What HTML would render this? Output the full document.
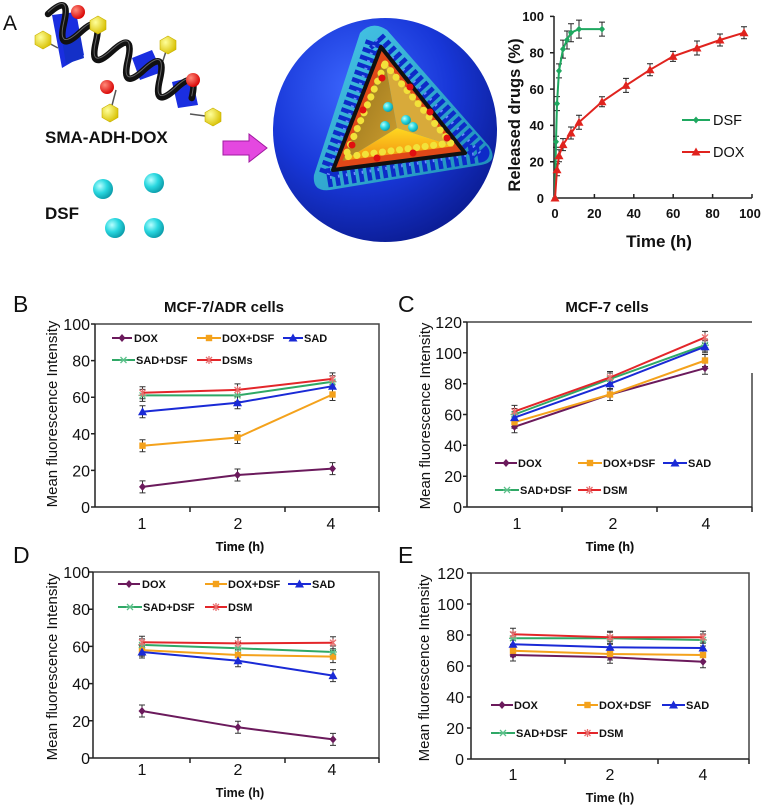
<!DOCTYPE html>
<html><head><meta charset="utf-8"><style>
html,body{margin:0;padding:0;background:#fff;}
svg{display:block;font-family:"Liberation Sans",Arial,sans-serif;}
.ax{stroke:#222;stroke-width:1.5;fill:none;}
.bx{stroke:#444;stroke-width:1.5;fill:none;}
.tk{font-size:16px;fill:#111;}
.lg{font-size:11px;font-weight:bold;fill:#111;}
.tt{font-size:12.5px;font-weight:bold;fill:#111;}
.yt{font-size:15px;fill:#111;}
.pl{font-size:23px;fill:#111;}
.s1{stroke:#6b1a5c;stroke-width:2;fill:none;}
.s2{stroke:#f4a21c;stroke-width:2;fill:none;}
.s3{stroke:#1a2ad6;stroke-width:2;fill:none;}
.s4{stroke:#2fa866;stroke-width:2;fill:none;}
.s5{stroke:#e3262a;stroke-width:2;fill:none;}
.eb{stroke:none;fill:none;}
</style></head><body>
<svg width="767" height="811" viewBox="0 0 767 811" xmlns="http://www.w3.org/2000/svg">
<defs>
<marker id="mD" viewBox="-5 -5 10 10" markerWidth="10" markerHeight="10" markerUnits="userSpaceOnUse" overflow="visible"><path d="M0,-4L3.5,0L0,4L-3.5,0Z" fill="#6b1a5c"/></marker>
<marker id="mS" viewBox="-5 -5 10 10" markerWidth="10" markerHeight="10" markerUnits="userSpaceOnUse" overflow="visible"><rect x="-3.2" y="-3.2" width="6.4" height="6.4" fill="#f4a21c"/></marker>
<marker id="mT" viewBox="-5 -5 10 10" markerWidth="10" markerHeight="10" markerUnits="userSpaceOnUse" overflow="visible"><path d="M0,-4.5L4.5,3.5L-4.5,3.5Z" fill="#1a2ad6"/></marker>
<marker id="mX" viewBox="-5 -5 10 10" markerWidth="10" markerHeight="10" markerUnits="userSpaceOnUse" overflow="visible"><path d="M-3,-3L3,3M-3,3L3,-3M-4,0H4" stroke="#5cc08a" stroke-width="1.3"/></marker>
<marker id="mA" viewBox="-5 -5 10 10" markerWidth="10" markerHeight="10" markerUnits="userSpaceOnUse" overflow="visible"><path d="M-3,-3L3,3M-3,3L3,-3M0,-4V4" stroke="#e87070" stroke-width="1.3"/></marker>
<marker id="mG" viewBox="-5 -5 10 10" markerWidth="10" markerHeight="10" markerUnits="userSpaceOnUse" overflow="visible"><path d="M0,-3.5L3,0L0,3.5L-3,0Z" fill="#1fa860"/></marker>
<marker id="mR" viewBox="-5 -5 10 10" markerWidth="10" markerHeight="10" markerUnits="userSpaceOnUse" overflow="visible"><path d="M0,-4.5L4.5,3.5L-4.5,3.5Z" fill="#e0231e"/></marker>
<marker id="eb" viewBox="-5 -8 10 16" markerWidth="10" markerHeight="16" markerUnits="userSpaceOnUse" overflow="visible"><path d="M0,-6V6M-3,-6H3M-3,6H3" stroke="#333" stroke-width="1"/></marker>
<radialGradient id="sph" cx="0.38" cy="0.32" r="0.75">
<stop offset="0" stop-color="#3d68ff"/><stop offset="0.55" stop-color="#1837d8"/><stop offset="1" stop-color="#0a1a8e"/></radialGradient>
<linearGradient id="cy" x1="0" y1="0" x2="1" y2="1"><stop offset="0" stop-color="#48c8e8"/><stop offset="1" stop-color="#1c8ab8"/></linearGradient>
<linearGradient id="f3" x1="0" y1="0" x2="0" y2="1"><stop offset="0" stop-color="#ffd820"/><stop offset="1" stop-color="#f08a10"/></linearGradient>
<linearGradient id="f1" x1="0" y1="0" x2="1" y2="1"><stop offset="0" stop-color="#8a6a18"/><stop offset="1" stop-color="#d0a030"/></linearGradient>
<radialGradient id="cb" cx="0.35" cy="0.35" r="0.7"><stop offset="0" stop-color="#b8ffff"/><stop offset="0.5" stop-color="#2ad8e0"/><stop offset="1" stop-color="#0a9aa8"/></radialGradient>
<radialGradient id="rb" cx="0.35" cy="0.35" r="0.7"><stop offset="0" stop-color="#ff8a7a"/><stop offset="1" stop-color="#d80000"/></radialGradient>
<radialGradient id="yb" cx="0.35" cy="0.35" r="0.7"><stop offset="0" stop-color="#ffff9a"/><stop offset="1" stop-color="#d8c000"/></radialGradient>
</defs>

<!-- ============ PANEL A illustration ============ -->
<text x="3" y="30" style="font-size:21px;fill:#111">A</text>
<polygon points="52,15 76,12 84,55 62,68" fill="#1a2ee0"/>
<polygon points="132,58 152,50 162,72 140,80" fill="#1a2ee0"/>
<polygon points="172,82 192,77 198,105 178,108" fill="#1a2ee0"/>
<polygon points="62,40 80,36 84,58 66,64" fill="#1430c8"/>
<path d="M98,25L95,48M168,45L160,70M110,113L116,90M213,117L190,114M43,40L58,48" stroke="#555" stroke-width="1.5" fill="none"/>
<g transform="translate(48,14) rotate(30.3)">
<path d="M0,0 Q9.25,-30 18.5,0 T37,0 T55.5,0 T74,0 T92.5,0 T111,0 T129.5,0 T148,0 T166.5,0" stroke="#111" stroke-width="6.5" fill="none" stroke-linecap="round"/>
<path d="M0,0 Q9.25,-30 18.5,0 T37,0 T55.5,0 T74,0 T92.5,0 T111,0 T129.5,0 T148,0 T166.5,0" stroke="#666" stroke-width="1" fill="none" transform="translate(-1,-1.5)"/>
</g>
<circle cx="78" cy="12" r="7" fill="url(#rb)"/>
<circle cx="107" cy="87" r="7" fill="url(#rb)"/>
<circle cx="193" cy="80" r="7" fill="url(#rb)"/>
<g fill="url(#yb)" stroke="#c8b000" stroke-width="0.6">
<polygon points="43,31 51,35.5 51,44.5 43,49 35,44.5 35,35.5"/>
<polygon points="98,16 106,20.5 106,29.5 98,34 90,29.5 90,20.5"/>
<polygon points="168,36 176,40.5 176,49.5 168,54 160,49.5 160,40.5"/>
<polygon points="110,104 118,108.5 118,117.5 110,122 102,117.5 102,108.5"/>
<polygon points="213,108 221,112.5 221,121.5 213,126 205,121.5 205,112.5"/>
</g>
<text x="45" y="143" style="font-size:17px;font-weight:bold;fill:#111">SMA-ADH-DOX</text>
<text x="45" y="219" style="font-size:17px;font-weight:bold;fill:#111">DSF</text>
<circle cx="103" cy="189" r="10" fill="url(#cb)"/>
<circle cx="154" cy="183" r="10" fill="url(#cb)"/>
<circle cx="115" cy="228" r="10" fill="url(#cb)"/>
<circle cx="154" cy="228" r="10" fill="url(#cb)"/>
<polygon points="223,141 249,141 249,134 267,148 249,162 249,155 223,155" fill="#e448e0" stroke="#a01aa0" stroke-width="1"/>
<!-- sphere -->
<circle cx="385" cy="130" r="112" fill="url(#sph)"/>
<path d="M360,33 Q372,20 387,30 L489,146 Q499,162 481,165 L330,190 Q312,192 314,175 Z" fill="url(#cy)"/>
<path d="M376,40 L480,153 L327,178 Z" stroke="#0d2bc8" stroke-width="19" fill="none" stroke-dasharray="4.5 3.5" stroke-linejoin="round"/>
<path d="M376,40 L480,153 L327,178 Z" stroke="#6a8cff" stroke-width="3" fill="none" stroke-dasharray="1.5 6.5" stroke-linejoin="round"/>
<polygon points="384,55 397,128 340,163" fill="url(#f1)"/>
<polygon points="384,55 457,147 397,128" fill="#d8aa3a"/>
<polygon points="397,128 457,147 340,163" fill="url(#f3)"/>
<path d="M383,53 L460,149 L337,165 Z" stroke="#e04818" stroke-width="7" fill="none" stroke-linejoin="round"/>
<path d="M381,47 L465,153 L333,170 Z" stroke="#111" stroke-width="4" fill="none" stroke-linejoin="round"/>
<path d="M385,64 L451,143 L345,157 Z" stroke="#f2e23a" stroke-width="7" fill="none" stroke-dasharray="0.1 8.5" stroke-linecap="round"/>
<g fill="#e01010">
<circle cx="382" cy="78" r="3.5"/><circle cx="410" cy="87" r="3.5"/><circle cx="363" cy="110" r="3.5"/><circle cx="430" cy="112" r="3.5"/><circle cx="352" cy="145" r="3.5"/><circle cx="447" cy="138" r="3.5"/><circle cx="377" cy="158" r="3.5"/><circle cx="413" cy="153" r="3.5"/></g>
<g fill="url(#cb)"><circle cx="388" cy="107" r="5"/><circle cx="385" cy="126" r="5"/><circle cx="406" cy="120" r="5"/><circle cx="413" cy="127" r="5"/></g>

<!-- ============ PANEL A chart ============ -->
<text transform="translate(520,115) rotate(-90)" text-anchor="middle" style="font-size:16.5px;font-weight:bold;fill:#111">Released drugs (%)</text>
<g style="font-size:13px;font-weight:bold;fill:#111" text-anchor="end">
<text x="544" y="21">100</text><text x="544" y="57.5">80</text><text x="544" y="94">60</text><text x="544" y="130">40</text><text x="544" y="166.5">20</text><text x="544" y="203">0</text></g>
<g style="font-size:13px;font-weight:bold;fill:#111" text-anchor="middle">
<text x="555" y="218">0</text><text x="594.4" y="218">20</text><text x="633.8" y="218">40</text><text x="673.2" y="218">60</text><text x="712.6" y="218">80</text><text x="750" y="218">100</text></g>
<text x="659" y="247" text-anchor="middle" style="font-size:17px;font-weight:bold;fill:#111">Time (h)</text>
<path class="ax" d="M554,16V198H752M550,16.4H554M550,52.7H554M550,89.1H554M550,125.4H554M550,161.7H554M594.4,198V194M633.8,198V194M673.2,198V194M712.6,198V194M752,198V194"/>
<path d="M556,136.2V147.2M553,136.2h6M553,147.2h6 M557,96.6V110.6M554,96.6h6M554,110.6h6 M559,63.9V77.9M556,63.9h6M556,77.9h6 M563,40.1V58.1M560,40.1h6M560,58.1h6 M567,31V49M564,31h6M564,49h6 M571,23.7V41.7M568,23.7h6M568,41.7h6 M579,20.1V38.1M576,20.1h6M576,38.1h6 M602,22.1V36.1M599,22.1h6M599,36.1h6
M557,163.7V175.7M554,163.7h6M554,175.7h6 M559,149.7V161.7M556,149.7h6M556,161.7h6 M563,138.6V150.6M560,138.6h6M560,150.6h6 M571,127V139M568,127h6M568,139h6 M579,115.3V129.3M576,115.3h6M576,129.3h6 M602,96.8V106.8M599,96.8h6M599,106.8h6 M626,78.4V92.4M623,78.4h6M623,92.4h6 M650,63.8V75.8M647,63.8h6M647,75.8h6 M673,51.4V61.4M670,51.4h6M670,61.4h6 M697,41V55M694,41h6M694,55h6 M720,34V46M717,34h6M717,46h6 M744,26.7V38.7M741,26.7h6M741,38.7h6" stroke="#222" stroke-width="1" fill="none"/>
<polyline points="555,198 556,141.7 557,103.6 559,70.9 563,49.1 567,40 571,32.7 579,29.1 602,29.1" stroke="#1fa860" stroke-width="2" fill="none" marker-start="url(#mG)" marker-mid="url(#mG)" marker-end="url(#mG)"/>
<polyline points="555,198 557,169.7 559,155.7 563,144.6 571,133 579,122.3 602,101.8 626,85.4 650,69.8 673,56.4 697,48 720,40 744,32.7" stroke="#e0231e" stroke-width="2" fill="none" marker-start="url(#mR)" marker-mid="url(#mR)" marker-end="url(#mR)"/>
<polyline points="682,120 696,120 710,120" stroke="#1fa860" stroke-width="2" fill="none" marker-mid="url(#mG)"/>
<polyline points="682,152 696,152 710,152" stroke="#e0231e" stroke-width="2" fill="none" marker-mid="url(#mR)"/>
<text x="713" y="125" style="font-size:14.5px;fill:#111">DSF</text>
<text x="713" y="157" style="font-size:14.5px;fill:#111">DOX</text>

<!-- ============ PANEL B ============ -->
<text x="13" y="312" class="pl">B</text>
<text x="224" y="312" text-anchor="middle" style="font-size:15px;font-weight:bold;fill:#111">MCF-7/ADR cells</text>
<text transform="translate(57,414) rotate(-90)" text-anchor="middle" class="yt">Mean fluorescence Intensity</text>
<path class="bx" d="M95,324H379V507"/>
<path class="ax" d="M95,324V507H379M91,324H95M91,360.6H95M91,397.2H95M91,433.8H95M91,470.4H95M91,507H95M190,507V512M285,507V512M379,507V512"/>
<g class="tk" text-anchor="end"><text x="90" y="330">100</text><text x="90" y="366.6">80</text><text x="90" y="403.2">60</text><text x="90" y="439.8">40</text><text x="90" y="476.4">20</text><text x="90" y="513">0</text></g>
<g class="tk" text-anchor="middle"><text x="142" y="529">1</text><text x="238" y="529">2</text><text x="331" y="529">4</text></g>
<text x="240" y="551" text-anchor="middle" class="tt">Time (h)</text>
<g marker-start="url(#eb)" marker-mid="url(#eb)" marker-end="url(#eb)" class="eb">
<polyline points="142.5,486.9 237.5,475 332.5,468.6"/><polyline points="142.5,445.7 237.5,437.5 332.5,394.5"/><polyline points="142.5,411.8 237.5,402.7 332.5,386.2"/><polyline points="142.5,395.4 237.5,395.4 332.5,381.7"/><polyline points="142.5,392.7 237.5,389.9 332.5,378.9"/></g>
<polyline class="s1" points="142.5,486.9 237.5,475 332.5,468.6" marker-start="url(#mD)" marker-mid="url(#mD)" marker-end="url(#mD)"/>
<polyline class="s2" points="142.5,445.7 237.5,437.5 332.5,394.5" marker-start="url(#mS)" marker-mid="url(#mS)" marker-end="url(#mS)"/>
<polyline class="s3" points="142.5,411.8 237.5,402.7 332.5,386.2" marker-start="url(#mT)" marker-mid="url(#mT)" marker-end="url(#mT)"/>
<polyline class="s4" points="142.5,395.4 237.5,395.4 332.5,381.7" marker-start="url(#mX)" marker-mid="url(#mX)" marker-end="url(#mX)"/>
<polyline class="s5" points="142.5,392.7 237.5,389.9 332.5,378.9" marker-start="url(#mA)" marker-mid="url(#mA)" marker-end="url(#mA)"/>
<polyline class="s1" points="112,338 122,338 132,338" marker-mid="url(#mD)"/><text x="134" y="342" class="lg">DOX</text>
<polyline class="s2" points="197,338 209,338 221,338" marker-mid="url(#mS)"/><text x="222" y="342" class="lg">DOX+DSF</text>
<polyline class="s3" points="283,338 293,338 303,338" marker-mid="url(#mT)"/><text x="304" y="342" class="lg">SAD</text>
<polyline class="s4" points="112,360 123.5,360 135,360" marker-mid="url(#mX)"/><text x="136" y="364" class="lg">SAD+DSF</text>
<polyline class="s5" points="197,360 209,360 221,360" marker-mid="url(#mA)"/><text x="222" y="364" class="lg">DSMs</text>

<!-- ============ PANEL C ============ -->
<text x="398" y="312" class="pl">C</text>
<text x="607" y="312" text-anchor="middle" style="font-size:15px;font-weight:bold;fill:#111">MCF-7 cells</text>
<text transform="translate(430,416) rotate(-90)" text-anchor="middle" class="yt">Mean fluorescence Intensity</text>
<path class="bx" d="M467,322H752M752,373V507"/>
<path class="ax" d="M467,322V507H752M463,322H467M463,352.8H467M463,383.7H467M463,414.5H467M463,445.3H467M463,476.2H467M463,507H467M562,507V512M657,507V512M752,507V512"/>
<g class="tk" text-anchor="end"><text x="462" y="328">120</text><text x="462" y="358.8">100</text><text x="462" y="389.7">80</text><text x="462" y="420.5">60</text><text x="462" y="451.3">40</text><text x="462" y="482.2">20</text><text x="462" y="513">0</text></g>
<g class="tk" text-anchor="middle"><text x="517" y="529">1</text><text x="613" y="529">2</text><text x="706" y="529">4</text></g>
<text x="610" y="551" text-anchor="middle" class="tt">Time (h)</text>
<g marker-start="url(#eb)" marker-mid="url(#eb)" marker-end="url(#eb)" class="eb">
<polyline points="514.5,426.8 610,394.5 705,368.2"/><polyline points="514.5,422.2 610,394.5 705,360.5"/><polyline points="514.5,417.6 610,383.7 705,346.7"/><polyline points="514.5,414.5 610,379 705,345.1"/><polyline points="514.5,411.4 610,377.5 705,337.4"/></g>
<polyline class="s1" points="514.5,426.8 610,394.5 705,368.2" marker-start="url(#mD)" marker-mid="url(#mD)" marker-end="url(#mD)"/>
<polyline class="s2" points="514.5,422.2 610,394.5 705,360.5" marker-start="url(#mS)" marker-mid="url(#mS)" marker-end="url(#mS)"/>
<polyline class="s4" points="514.5,414.5 610,379 705,345.1" marker-start="url(#mX)" marker-mid="url(#mX)" marker-end="url(#mX)"/>
<polyline class="s3" points="514.5,417.6 610,383.7 705,346.7" marker-start="url(#mT)" marker-mid="url(#mT)" marker-end="url(#mT)"/>
<polyline class="s5" points="514.5,411.4 610,377.5 705,337.4" marker-start="url(#mA)" marker-mid="url(#mA)" marker-end="url(#mA)"/>
<polyline class="s1" points="495,463 506,463 517,463" marker-mid="url(#mD)"/><text x="518" y="467" class="lg">DOX</text>
<polyline class="s2" points="578,463 590,463 602,463" marker-mid="url(#mS)"/><text x="603" y="467" class="lg">DOX+DSF</text>
<polyline class="s3" points="663,463 675,463 687,463" marker-mid="url(#mT)"/><text x="688" y="467" class="lg">SAD</text>
<polyline class="s4" points="495,490 507,490 519,490" marker-mid="url(#mX)"/><text x="520" y="494" class="lg">SAD+DSF</text>
<polyline class="s5" points="578,490 589.5,490 601,490" marker-mid="url(#mA)"/><text x="603" y="494" class="lg">DSM</text>

<!-- ============ PANEL D ============ -->
<text x="13" y="563" class="pl">D</text>
<text x="240" y="551" text-anchor="middle" class="tt">Time (h)</text>
<text transform="translate(57,667) rotate(-90)" text-anchor="middle" class="yt">Mean fluorescence Intensity</text>
<path class="bx" d="M93,572H379V758"/>
<path class="ax" d="M93,572V758H379M89,572H93M89,609.2H93M89,646.4H93M89,683.6H93M89,720.8H93M89,758H93M190,758V763M285,758V763M379,758V763"/>
<g class="tk" text-anchor="end"><text x="90" y="578">100</text><text x="90" y="615.2">80</text><text x="90" y="652.4">60</text><text x="90" y="689.6">40</text><text x="90" y="726.8">20</text><text x="90" y="764">0</text></g>
<g class="tk" text-anchor="middle"><text x="142" y="775">1</text><text x="238" y="775">2</text><text x="332" y="775">4</text></g>
<text x="240" y="797" text-anchor="middle" class="tt">Time (h)</text>
<g marker-start="url(#eb)" marker-mid="url(#eb)" marker-end="url(#eb)" class="eb">
<polyline points="142,711 238,727.3 333,739.4"/><polyline points="142,650.1 238,655 333,656.6"/><polyline points="142,652 238,660.7 333,675.6"/><polyline points="142,644.9 238,648.3 333,652"/><polyline points="142,642.3 238,643.4 333,642.7"/></g>
<polyline class="s1" points="142,711 238,727.3 333,739.4" marker-start="url(#mD)" marker-mid="url(#mD)" marker-end="url(#mD)"/>
<polyline class="s2" points="142,650.1 238,655 333,656.6" marker-start="url(#mS)" marker-mid="url(#mS)" marker-end="url(#mS)"/>
<polyline class="s4" points="142,644.9 238,648.3 333,652" marker-start="url(#mX)" marker-mid="url(#mX)" marker-end="url(#mX)"/>
<polyline class="s3" points="142,652 238,660.7 333,675.6" marker-start="url(#mT)" marker-mid="url(#mT)" marker-end="url(#mT)"/>
<polyline class="s5" points="142,642.3 238,643.4 333,642.7" marker-start="url(#mA)" marker-mid="url(#mA)" marker-end="url(#mA)"/>
<polyline class="s1" points="118,584 129,584 140,584" marker-mid="url(#mD)"/><text x="142" y="588" class="lg">DOX</text>
<polyline class="s2" points="205,584 216,584 227,584" marker-mid="url(#mS)"/><text x="228" y="588" class="lg">DOX+DSF</text>
<polyline class="s3" points="288,584 299.5,584 311,584" marker-mid="url(#mT)"/><text x="312" y="588" class="lg">SAD</text>
<polyline class="s4" points="118,607 130,607 142,607" marker-mid="url(#mX)"/><text x="143" y="611" class="lg">SAD+DSF</text>
<polyline class="s5" points="205,607 216,607 227,607" marker-mid="url(#mA)"/><text x="228" y="611" class="lg">DSM</text>

<!-- ============ PANEL E ============ -->
<text x="398" y="563" class="pl">E</text>
<text x="610" y="551" text-anchor="middle" class="tt">Time (h)</text>
<text transform="translate(429,668) rotate(-90)" text-anchor="middle" class="yt">Mean fluorescence Intensity</text>
<path class="bx" d="M471,573H749V759"/>
<path class="ax" d="M471,573V759H749M467,573H471M467,604H471M467,635H471M467,666H471M467,697H471M467,728H471M467,759H471M565,759V764M658,759V764M749,759V764"/>
<g class="tk" text-anchor="end"><text x="464" y="579">120</text><text x="464" y="610">100</text><text x="464" y="641">80</text><text x="464" y="672">60</text><text x="464" y="703">40</text><text x="464" y="734">20</text><text x="464" y="765">0</text></g>
<g class="tk" text-anchor="middle"><text x="513" y="780">1</text><text x="610" y="780">2</text><text x="703" y="780">4</text></g>
<text x="610" y="802" text-anchor="middle" class="tt">Time (h)</text>
<g marker-start="url(#eb)" marker-mid="url(#eb)" marker-end="url(#eb)" class="eb">
<polyline points="513,655 610,657.3 703,661.7"/><polyline points="513,650.7 610,654 703,655"/><polyline points="513,644.3 610,647.3 703,648"/><polyline points="513,638.3 610,638.3 703,640"/><polyline points="513,634.3 610,637.3 703,637.3"/></g>
<polyline class="s1" points="513,655 610,657.3 703,661.7" marker-start="url(#mD)" marker-mid="url(#mD)" marker-end="url(#mD)"/>
<polyline class="s2" points="513,650.7 610,654 703,655" marker-start="url(#mS)" marker-mid="url(#mS)" marker-end="url(#mS)"/>
<polyline class="s3" points="513,644.3 610,647.3 703,648" marker-start="url(#mT)" marker-mid="url(#mT)" marker-end="url(#mT)"/>
<polyline class="s4" points="513,638.3 610,638.3 703,640" marker-start="url(#mX)" marker-mid="url(#mX)" marker-end="url(#mX)"/>
<polyline class="s5" points="513,634.3 610,637.3 703,637.3" marker-start="url(#mA)" marker-mid="url(#mA)" marker-end="url(#mA)"/>
<polyline class="s1" points="491,705 502,705 513,705" marker-mid="url(#mD)"/><text x="514" y="709" class="lg">DOX</text>
<polyline class="s2" points="577,705 587.5,705 598,705" marker-mid="url(#mS)"/><text x="599" y="709" class="lg">DOX+DSF</text>
<polyline class="s3" points="662,705 673.5,705 685,705" marker-mid="url(#mT)"/><text x="686" y="709" class="lg">SAD</text>
<polyline class="s4" points="491,733 503,733 515,733" marker-mid="url(#mX)"/><text x="516" y="737" class="lg">SAD+DSF</text>
<polyline class="s5" points="577,733 587.5,733 598,733" marker-mid="url(#mA)"/><text x="599" y="737" class="lg">DSM</text>
</svg>
</body></html>
